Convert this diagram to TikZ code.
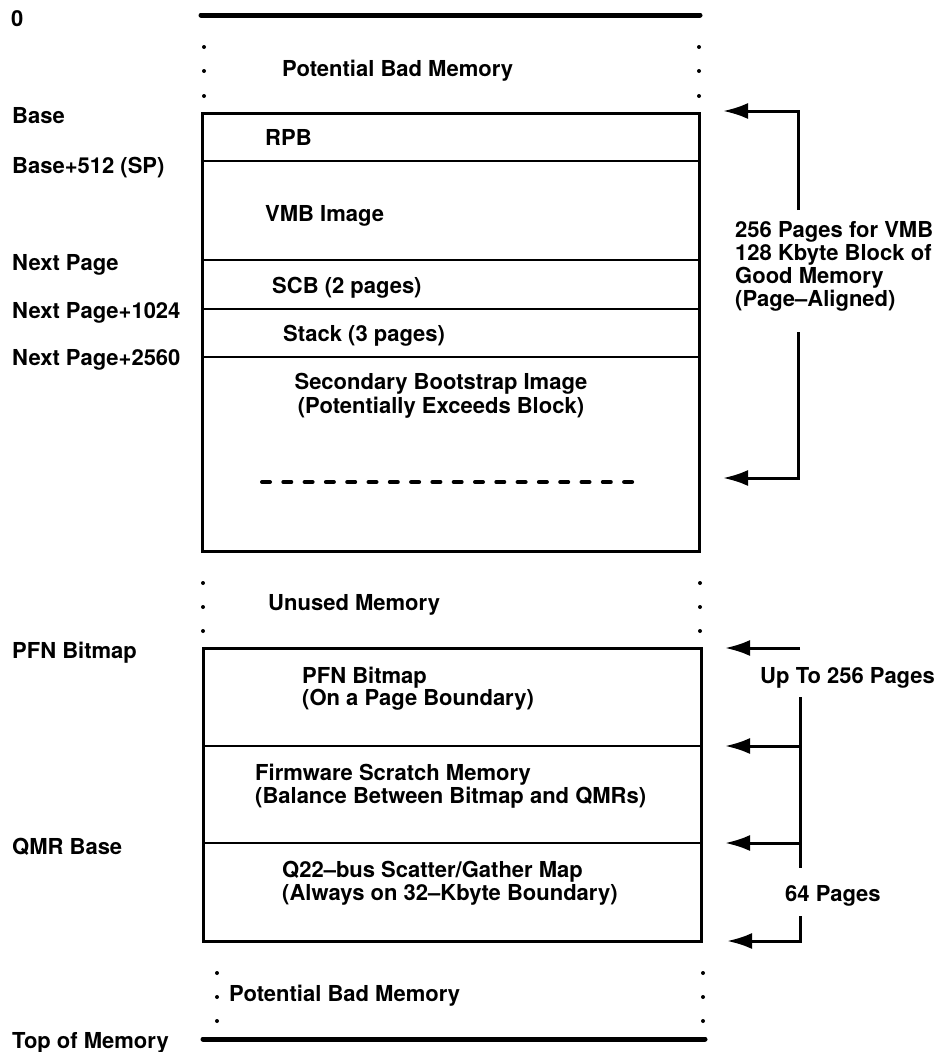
\documentclass[tikz,border=0pt]{standalone}
\usepackage{fontspec}
\setmainfont{TeX Gyre Heros}
\usetikzlibrary{arrows.meta}

\tikzset{
  lbl/.style={anchor=base west, inner sep=0pt, font=\bfseries\fontsize{22}{26}\selectfont},
  clbl/.style={lbl, anchor=base},
  boxln/.style={line width=3pt},
  divln/.style={line width=2.5pt},
  endbar/.style={line width=5pt, line cap=round},
  ptr/.style={line width=3pt, -{Latex[length=25pt,width=16pt]}},
  brk/.style={line width=3pt}
}

\begin{document}
\begin{tikzpicture}[x=1pt,y=-1pt]
  \useasboundingbox (0,0) rectangle (945,1052);

  % top of the map
  \draw[endbar] (201,15) -- (700,15);
  \node[lbl] (zero) at (11,26) {0};
  \foreach \y in {47,71,96} {
    \fill (204,\y) circle (2pt);
    \fill (699,\y) circle (2pt);
  }
  \node[lbl] (badtop) at (282,76) {Potential Bad Memory};

  % 128 Kbyte block
  \draw[boxln] (202,113) rectangle (699,551);
  \draw[divln] (202,161) -- (699,161);
  \draw[divln] (202,260) -- (699,260);
  \draw[divln] (202,309) -- (699,309);
  \draw[divln] (202,357) -- (699,357);
  \draw[line width=4pt, line cap=round, dash pattern=on 8pt off 13.3pt] (262,482) -- (641,482);

  \node[lbl] (base) at (12,123) {Base};
  \node[lbl] (sp) at (12,173) {Base+512 (SP)};
  \node[lbl] (nxt) at (12,270) {Next Page};
  \node[lbl] (nxta) at (12,318) {Next Page+1024};
  \node[lbl] (nxtb) at (12,365) {Next Page+2560};

  \node[lbl] (rpb) at (265,145) {RPB};
  \node[lbl] (vmb) at (265,221) {VMB Image};
  \node[lbl] (scb) at (272,293) {SCB (2 pages)};
  \node[lbl] (stk) at (283,341) {Stack (3 pages)};
  \node[clbl] (sbi) at (441,389) {Secondary Bootstrap Image};
  \node[clbl] (sbib) at (441,413) {(Potentially Exceeds Block)};

  % bracket for the VMB block
  \coordinate (vmbhi) at (798,210);
  \coordinate (vmblo) at (798,332);
  \coordinate (vmbtip) at (723,111);
  \coordinate (vmbend) at (723,478);
  \node[lbl] (blka) at (735,237) {256 Pages for VMB};
  \node[lbl] (blkb) at (735,260) {128 Kbyte Block of};
  \node[lbl] (blkc) at (735,283) {Good Memory};
  \node[lbl] (blkd) at (735,306) {(Page--Aligned)};
  \draw[ptr] (vmbhi) |- (vmbtip);
  \draw[ptr] (vmblo) |- (vmbend);

  % unused memory
  \foreach \y in {583,607,631} {
    \fill (203,\y) circle (2pt);
    \fill (700,\y) circle (2pt);
  }
  \node[lbl] (unused) at (268,610) {Unused Memory};

  % bitmap and map block
  \draw[boxln] (203,648) rectangle (701,941);
  \draw[divln] (203,746) -- (701,746);
  \draw[divln] (203,843) -- (701,843);

  \node[lbl] (pfn) at (12,658) {PFN Bitmap};
  \node[lbl] (qmr) at (12,854) {QMR Base};

  \node[lbl] (pfna) at (302,683) {PFN Bitmap};
  \node[lbl] (pfnb) at (302,705) {(On a Page Boundary)};
  \node[lbl] (fwa) at (255,780) {Firmware Scratch Memory};
  \node[lbl] (fwb) at (255,803) {(Balance Between Bitmap and QMRs)};
  \node[lbl] (qba) at (282,877) {Q22--bus Scatter/Gather Map};
  \node[lbl] (qbb) at (282,900) {(Always on 32--Kbyte Boundary)};

  % bracket for the bitmap
  \coordinate (pfnr) at (800,648);
  \coordinate (pfntip) at (725,648);
  \coordinate (bmhi) at (800,697);
  \coordinate (bmlo) at (800,868);
  \coordinate (fwr) at (800,746);
  \coordinate (fwtip) at (725,746);
  \coordinate (qmrr) at (800,843);
  \coordinate (qmrtip) at (725,843);
  \coordinate (maplo) at (800,916);
  \coordinate (maptip) at (727,941);
  \node[lbl] (upto) at (760,683) {Up To 256 Pages};
  \node[lbl] (sixty) at (785,901) {64 Pages};
  \draw[ptr] (pfnr) -- (pfntip);
  \draw[brk] (bmhi) -- (bmlo);
  \draw[ptr] (fwr) -- (fwtip);
  \draw[ptr] (qmrr) -- (qmrtip);
  \draw[ptr] (maplo) |- (maptip);

  % bottom of the map
  \foreach \y in {973,997,1021} {
    \fill (217,\y) circle (2pt);
    \fill (703,\y) circle (2pt);
  }
  \node[lbl] (badbot) at (229,1001) {Potential Bad Memory};
  \node[lbl] (topmem) at (12,1048) {Top of Memory};
  \draw[endbar] (203,1039) -- (705,1039);
\end{tikzpicture}
\end{document}
